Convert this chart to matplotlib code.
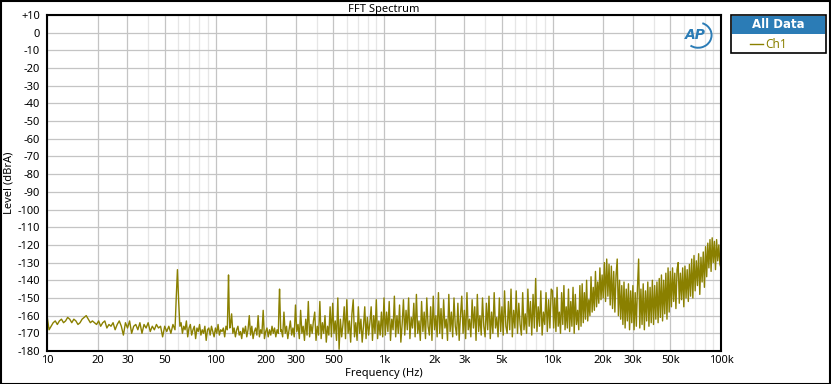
import numpy as np
import matplotlib.pyplot as plt
from matplotlib.patches import Rectangle, Arc
from matplotlib.lines import Line2D
from matplotlib.ticker import FixedLocator, NullFormatter

# --- data (frequency segments, levels in dBrA) ---
seg_low = (10, 57.5, [
    -160, -168, -166, -164, -163, -165, -163, -162, -164, -163, -161, -162, -164, -162, -163, -165,
    -164, -162, -161, -160, -162, -164, -163, -164, -165, -163, -166, -164, -163, -167, -165, -166,
    -164, -168, -165, -163, -166, -171, -164, -167, -163, -170, -166, -165, -168, -164, -170, -165,
    -167, -164, -169, -166, -168, -165, -167, -166, -172, -166, -169, -166, -170, -165])
peak_60 = (57.5, 62.5, [-168, -150, -134, -152, -166])
seg_60_120 = (62.5, 117.5, [
    -164, -170, -166, -168, -163, -172, -167, -165, -171, -168, -166, -173, -167, -169, -165, -171,
    -168, -170, -166, -174, -168, -167, -171, -166, -169, -172, -167, -170, -165, -171, -168, -169,
    -167, -172, -166])
peak_120 = (117.5, 122.5, [-168, -152, -137, -155, -167])
seg_120_240 = (122.5, 236, [
    -166, -159, -170, -167, -172, -168, -166, -171, -169, -173, -167, -170, -166, -172, -168, -160,
    -171, -166, -173, -169, -167, -171, -160, -172, -168, -170, -157, -173, -169, -167, -172, -168,
    -171, -166, -170, -167, -172, -168])
peak_240 = (236, 246, [-170, -155, -145, -156, -169])
seg_240_1k = (246, 1000, [
    -168, -172, -158, -170, -166, -173, -168, -163, -171, -167, -172, -154, -169, -165, -173, -157,
    -170, -166, -174, -162, -171, -152, -172, -165, -170, -163, -158, -174, -166, -171, -152, -173,
    -164, -170, -160, -175, -166, -171, -155, -172, -153, -170, -163, -174, -150, -179, -162, -172,
    -165, -155, -173, -151, -170, -163, -175, -159, -151, -172, -164, -174, -155, -170, -162, -175,
    -166, -155, -173, -161, -171, -164, -155, -174, -160, -170, -151, -173, -163, -171, -158, -172])
seg_1k_10k = (1000, 10000, [
    -150, -171, -158, -169, -152, -174, -162, -168, -149, -172,
    -160, -170, -154, -175, -165, -151, -171, -157, -168, -150,
    -173, -161, -167, -153, -172, -148, -170, -163, -174, -152,
    -169, -158, -173, -150, -166, -171, -155, -174, -149, -168,
    -160, -172, -147, -170, -156, -173, -151, -167, -162, -174,
    -148, -169, -158, -172, -150, -166, -171, -153, -174, -160,
    -149, -170, -157, -173, -147, -168, -162, -172, -151, -167,
    -155, -174, -148, -169, -160, -171, -150, -166, -172, -153,
    -168, -149, -173, -158, -170, -147, -167, -161, -172, -150,
    -169, -155, -171, -146, -166, -170, -152, -168, -145, -172,
    -157, -167, -146, -170, -153, -165, -171, -147, -168, -159,
    -170, -145, -166, -152, -171, -148, -167, -139, -169, -155,
    -166, -146, -171, -158, -165, -147, -169, -151, -167, -145])
seg_10k_15k = (10000, 15000, [
    -146, -167, -150, -169, -144, -166, -158, -170, -147, -165, -143, -168, -155, -167, -145, -169,
    -152, -166, -144, -170, -148, -165, -157, -168, -143, -166])
seg_15k_20k = (15000, 20000, [
    -142, -164, -147, -162, -140, -163, -151, -160, -138, -158, -144, -157, -135, -155, -141, -153,
    -133, -151, -137])
seg_20k_22k = (20000, 22000, [-150, -130, -152, -128, -149, -131])
seg_22k_25k = (22000, 25000, [-154, -132, -156, -135, -158, -137, -128, -160])
seg_25k_30k = (25000, 30000, [-140, -162, -143, -165, -141, -167, -145, -163, -142, -168, -146, -164])
seg_30k_43k = (30000, 43000, [
    -143, -168, -147, -166, -144, -128, -167, -145, -165, -142, -168, -146, -163, -141, -166, -144,
    -164, -140, -165, -143, -162, -141, -164])
seg_43k_50k = (43000, 50000, [-139, -161, -137, -163, -140, -159, -136, -162, -133, -158])
seg_50k_67k = (50000, 67000, [
    -135, -155, -133, -152, -136, -156, -134, -130, -153, -136, -151, -133, -155, -132, -150, -134,
    -152, -131, -149])
seg_67k_81k = (67000, 81000, [-128, -150, -126, -146, -129, -143, -125, -148, -127, -141, -124, -144])
seg_81k_100k = (81000, 100000, [-121, -138, -119, -133, -117, -135, -116, -130, -118, -134, -117,
                                -129, -120, -131, -133])

segments = [seg_low, peak_60, seg_60_120, peak_120, seg_120_240, peak_240, seg_240_1k,
            seg_1k_10k, seg_10k_15k, seg_15k_20k, seg_20k_22k, seg_22k_25k, seg_25k_30k,
            seg_30k_43k, seg_43k_50k, seg_50k_67k, seg_67k_81k, seg_81k_100k]

x_ticks = [10, 20, 30, 50, 100, 200, 300, 500, 1000, 2000, 3000, 5000,
           10000, 20000, 30000, 50000, 100000]
x_labels = ['10', '20', '30', '50', '100', '200', '300', '500', '1k', '2k', '3k', '5k',
            '10k', '20k', '30k', '50k', '100k']
y_ticks = list(range(10, -181, -10))
y_labels = ['+10' if v > 0 else str(v) for v in y_ticks]

trace_color = '#8a8000'
ap_blue = '#2b7cb6'

freq = []
level = []
for i, (f0, f1, vals) in enumerate(segments):
    last = i == len(segments) - 1
    freq.extend(np.geomspace(f0, f1, len(vals), endpoint=last))
    level.extend(vals)

plt.rcParams['font.family'] = ['Noto Sans', 'DejaVu Sans']

W, H = 831, 384
fig = plt.figure(figsize=(W / 100, H / 100), dpi=100)
ax = fig.add_axes([47 / W, (H - 351) / H, 674 / W, 336 / H])

ax.plot(freq, level, color=trace_color, lw=1.0)

ax.set_xscale('log')
ax.set_xlim(10, 100000)
ax.set_ylim(-180, 10)

ax.xaxis.set_major_locator(FixedLocator(x_ticks))
ax.set_xticklabels(x_labels)
minor = [m * d for d in [10, 100, 1000, 10000] for m in range(2, 10) if m * d not in x_ticks]
ax.xaxis.set_minor_locator(FixedLocator(minor))
ax.xaxis.set_minor_formatter(NullFormatter())
ax.set_yticks(y_ticks)
ax.set_yticklabels(y_labels)

ax.grid(which='major', color='#c4c4c4', lw=0.9)
ax.grid(which='minor', axis='x', color='#e6e6e6', lw=0.9)
ax.set_axisbelow(True)
ax.tick_params(which='both', length=0, labelsize=8, colors='black')
ax.tick_params(axis='y', pad=5)
ax.tick_params(axis='x', pad=3)
for s in ax.spines.values():
    s.set_linewidth(1.5)
    s.set_color('black')

ax.set_xlabel('Frequency (Hz)', fontsize=8, labelpad=1)
ax.set_ylabel('Level (dBrA)', fontsize=8, labelpad=2)
ax.set_title('FFT Spectrum', fontsize=8, pad=2)

# AP logo
ax.text(0.962, 0.94, 'AP', transform=ax.transAxes, ha='center', va='center',
        fontsize=10, fontweight='bold', style='italic', color=ap_blue,
        family=['DejaVu Sans'])
ax.add_patch(Arc((0.966, 0.94), 0.04, 0.075, theta1=-110, theta2=80, transform=ax.transAxes,
                 color=ap_blue, lw=1.4))

# legend panel
fig.patches.append(Rectangle((731 / W, (H - 53) / H), 95 / W, 38 / H, transform=fig.transFigure,
                             facecolor='white', edgecolor='black', lw=1.2, zorder=5))
fig.patches.append(Rectangle((732 / W, (H - 34) / H), 93 / W, 18 / H, transform=fig.transFigure,
                             facecolor=ap_blue, edgecolor='none', zorder=6))
fig.text(778 / W, (H - 25) / H, 'All Data', ha='center', va='center', color='white',
         fontsize=8.5, fontweight='bold', family=['DejaVu Sans'], zorder=7)
fig.lines.append(Line2D([750 / W, 763 / W], [(H - 44) / H] * 2, transform=fig.transFigure,
                        color=trace_color, lw=1, zorder=7))
fig.text(765 / W, (H - 44) / H, 'Ch1', ha='left', va='center', color=trace_color,
         fontsize=8.5, zorder=7)

# outer border
fig.patches.append(Rectangle((0.5 / W, 0.5 / H), (W - 1.5) / W, (H - 1.5) / H,
                             transform=fig.transFigure, facecolor='none',
                             edgecolor='black', lw=1.5, zorder=8))

fig.savefig('out.png', dpi=100)
